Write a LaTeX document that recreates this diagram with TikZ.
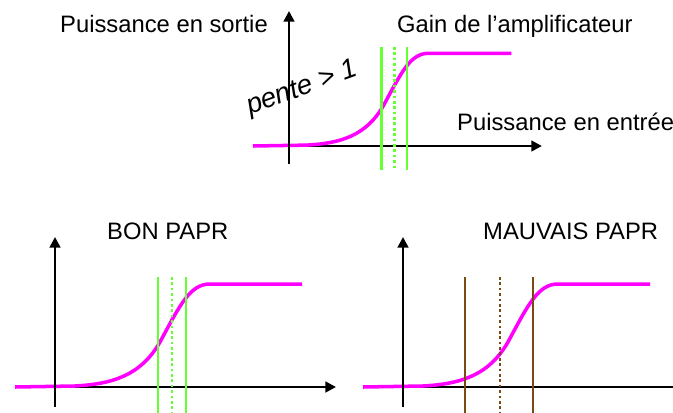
\documentclass[tikz,border=0pt]{standalone}
\usepackage{fontspec}
\setmainfont{Liberation Sans}
\usepackage{tikz}
\usetikzlibrary{arrows.meta}
\usepackage{xcolor}
\definecolor{CurveMagenta}{HTML}{FF00FF}
\definecolor{BandGreen}{HTML}{66FF33}
\definecolor{BandBrown}{HTML}{7A4A14}

\tikzset{
  axisline/.style={line width=2.2pt, -{Triangle[length=9pt,width=9pt]}},
  gaincurve/.style={CurveMagenta, line width=3pt},
  bandline/.style={line width=2.3pt},
  bandmid/.style={line width=2.3pt, dash pattern=on 2.3pt off 2.3pt},
  txt/.style={font=\fontsize{20.3}{24}\selectfont, inner sep=0pt, anchor=base west}
}

\begin{document}
\begin{tikzpicture}[x=0.03cm, y=-0.03cm]
  \useasboundingbox (0,0) rectangle (673,412);
  \foreach \n/\ox/\oy/\s/\col/\a/\b/\c in {
    top/289/146/0.9/BandGreen/103/117/131,
    bon/55/387/1/BandGreen/103/117/131,
    mauvais/403/387/1/BandBrown/62/97/130
  }{
    \begin{scope}[shift={(\ox,\oy)}, scale=\s, yscale=-1]
      \coordinate (o-\n) at (0,0);
      \coordinate (x-\n) at (281,0);
      \coordinate (yb-\n) at (0,-20);
      \coordinate (y-\n) at (0,150);
      \draw[axisline] (o-\n) -- (x-\n);
      \draw[gaincurve] (-40,0) -- (20,1) .. controls (55,3) and (85,10) .. (105,45)
        .. controls (125,82) and (135,103) .. (155,103) -- (247,103);
      \draw[axisline] (yb-\n) -- (y-\n);
      \draw[bandline, \col] (\a,110) -- (\a,-27);
      \draw[bandmid, \col] (\b,110) -- (\b,-27);
      \draw[bandline, \col] (\c,110) -- (\c,-27);
    \end{scope}
  }
  \node[txt] (sortie) at (60,32) {Puissance en sortie};
  \node[txt] (gain) at (397,32) {Gain de l’amplificateur};
  \node[txt] (entree) at (457,130) {Puissance en entrée};
  \node[txt] (bon) at (107,239) {BON PAPR};
  \node[txt] (mauvais) at (483,239) {MAUVAIS PAPR};
  \node[txt, font=\fontsize{23.5}{27}\selectfont\itshape, rotate=20] (pente) at (250,115) {pente > 1};
\end{tikzpicture}
\end{document}
